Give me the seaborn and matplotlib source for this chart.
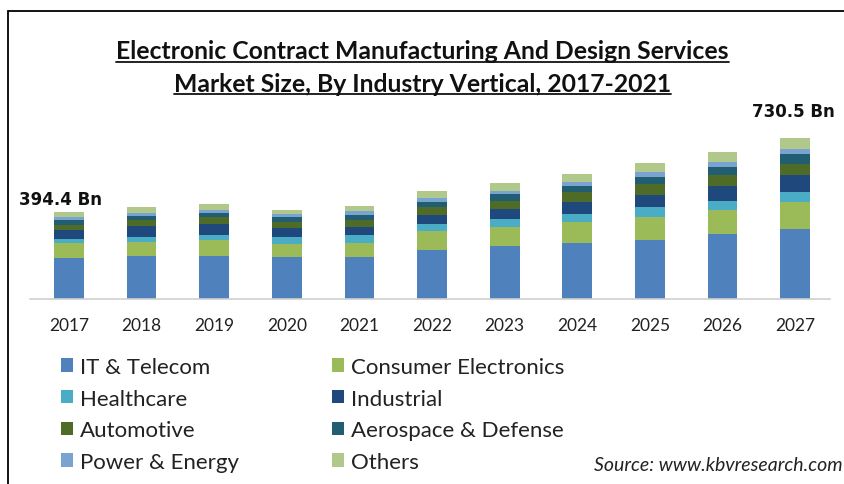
import matplotlib
matplotlib.use("Agg")
import matplotlib.pyplot as plt
from matplotlib import font_manager
from matplotlib.patches import Patch, Rectangle
from matplotlib.lines import Line2D
import numpy as np
import pandas as pd
import seaborn as sns

years = ["2017", "2018", "2019", "2020", "2021", "2022", "2023", "2024", "2025", "2026", "2027"]
it_telecom = [186, 196, 196, 191, 191, 223, 241, 255, 268, 296, 320]
consumer = [68, 64, 73, 59, 64, 86, 86, 96, 105, 109, 119]
healthcare = [18, 23, 23, 32, 38, 32, 36, 36, 46, 41, 46]
industrial = [41, 50, 50, 41, 36, 41, 46, 55, 55, 68, 78]
automotive = [22, 27, 32, 27, 32, 36, 36, 46, 50, 50, 50]
aerospace = [23, 18, 18, 23, 23, 23, 32, 27, 32, 36, 46]
power = [14, 14, 14, 14, 14, 18, 14, 18, 23, 23, 23]
others = [22.4, 27, 27, 18, 23, 32, 36, 36, 41, 46, 48.5]

series_names = ["IT & Telecom", "Consumer Electronics", "Healthcare", "Industrial",
                "Automotive", "Aerospace & Defense", "Power & Energy", "Others"]
series_vals = [it_telecom, consumer, healthcare, industrial, automotive, aerospace, power, others]
colors = ["#4F81BD", "#9BBB59", "#4BACC6", "#1F497D", "#4F6B28", "#215E72", "#7BA3D2", "#B0C98A"]
annot_labels = {"2017": "394.4 Bn", "2027": "730.5 Bn"}

names = {f.name for f in font_manager.fontManager.ttflist}
fam = "Liberation Sans Narrow" if "Liberation Sans Narrow" in names else "Lato"
fam2 = "Lato" if "Lato" in names else "DejaVu Sans"

sns.set_theme(style="white")
plt.rcParams['font.family'] = [fam2, 'DejaVu Sans']

W, H = 845, 485
fig = plt.figure(figsize=(W / 100, H / 100), dpi=100)
ax = fig.add_axes([30 / W, 1 - 300 / H, 800 / W, 176 / H])

cum = np.zeros(len(years))
cums = []
for v in series_vals:
    cum = cum + np.array(v, dtype=float)
    cums.append(cum.copy())
for name, c, col in reversed(list(zip(series_names, cums, colors))):
    sns.barplot(x=years, y=c, color=col, saturation=1, width=0.41, ax=ax, linewidth=0, order=years)

ax.set_xlim(-0.537, 10.48)
ax.set_ylim(0, 800)
ax.set_yticks([])
for s in ["top", "left", "right"]:
    ax.spines[s].set_visible(False)
ax.spines["bottom"].set_color("#D0D0D0")
ax.spines["bottom"].set_linewidth(1.2)
ax.tick_params(axis="x", length=0, labelsize=12.5, pad=13, colors="#222222")
ax.set_xlabel("")
ax.set_ylabel("")

totals = cums[-1]
for y, lab in annot_labels.items():
    i = years.index(y)
    off = (-6, 3) if i == 0 else (-1, 13)
    ax.annotate(lab, (i, totals[i]), xytext=off, textcoords="offset points",
                ha="center", va="bottom", fontsize=12, fontweight="bold", color="#111111",
                family=["DejaVu Sans"])

# title with underline
t1 = fig.text(0.5, 1 - 52 / H, "Electronic Contract Manufacturing And Design Services",
              ha="center", va="center", fontsize=17.8, fontweight="bold", family=[fam, "DejaVu Sans"], color="#111111")
t2 = fig.text(0.5, 1 - 84 / H, "Market Size, By Industry Vertical, 2017-2021",
              ha="center", va="center", fontsize=17.8, fontweight="bold", family=[fam, "DejaVu Sans"], color="#111111")
fig.canvas.draw()
r = fig.canvas.get_renderer()
for t in (t1, t2):
    bb = t.get_window_extent(renderer=r)
    yline = bb.y0 + 1
    fig.add_artist(Line2D([bb.x0 / W, bb.x1 / W], [yline / H, yline / H], color="#111111", lw=1.3))

# frame
fig.add_artist(Rectangle((8 / W, -0.01), 1.0, (485 - 12) / H + 0.01, fill=False,
                         edgecolor="black", lw=1.3, transform=fig.transFigure))

# legends
handles = [Patch(facecolor=c, edgecolor="none") for c in colors]
left_idx = [0, 2, 4, 6]
right_idx = [1, 3, 5, 7]
for idx, x in ((left_idx, 61 / W), (right_idx, 332 / W)):
    leg = fig.legend([handles[i] for i in idx], [series_names[i] for i in idx],
                     loc="upper left", bbox_to_anchor=(x, 1 - 358 / H), frameon=False,
                     handlelength=0.55, handleheight=0.55, handletextpad=0.3,
                     labelspacing=0.52, borderpad=0, borderaxespad=0,
                     prop={"family": [fam, "DejaVu Sans"], "size": 16})
    for txt in leg.get_texts():
        txt.set_color("#222222")

fig.text(843 / W, 1 - 466 / H, "Source: www.kbvresearch.com", ha="right", va="center",
         fontsize=14, style="italic", family=[fam, "DejaVu Sans"], color="#222222")

fig.savefig("out.png", dpi=100)
